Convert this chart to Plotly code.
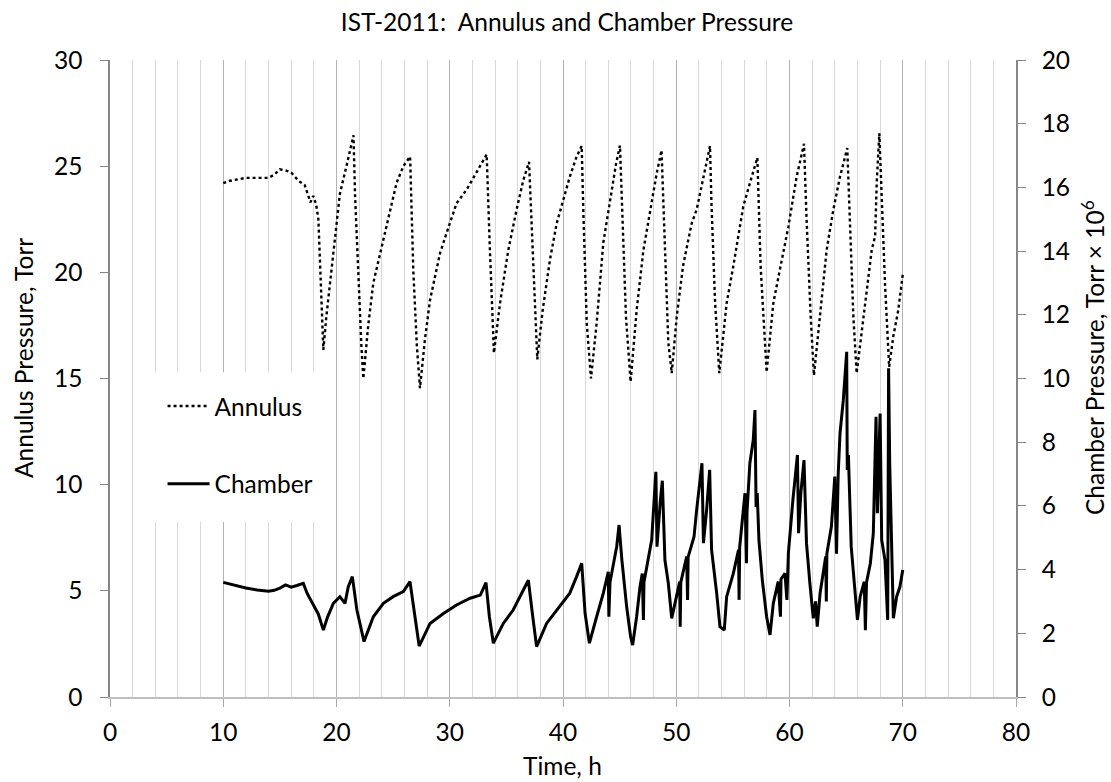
import plotly.graph_objects as go

# ---------------- data ----------------
annulus_time = [10.0, 10.5, 11.0, 12.0, 13.0, 14.0, 14.5, 15.0, 15.5, 16.0, 16.5, 16.8, 17.2, 17.5, 17.7,
                17.95, 18.2, 18.4, 18.55, 18.7, 18.84, 19.1, 19.43, 20.0, 20.3, 20.9, 21.3, 21.5, 21.64,
                21.93, 22.2, 22.37, 22.8, 23.25, 24.0, 24.7, 25.3, 25.9, 26.5, 26.78, 27.1, 27.37, 27.8,
                28.26, 29.14, 30.0, 30.6, 31.5, 32.4, 33.26, 33.55, 33.9, 34.44, 35.17, 35.9, 36.5, 37.0,
                37.38, 37.73, 38.2, 38.85, 39.44, 40.03, 40.6, 41.2, 41.65, 41.8, 42.1, 42.47, 42.97,
                43.56, 44.15, 44.68, 45.03, 45.27, 45.56, 45.97, 46.5, 47.1, 47.7, 48.27, 48.7, 49.0,
                49.3, 49.6, 50.04, 50.6, 51.36, 51.8, 52.4, 52.98, 53.1, 53.42, 53.8, 54.45, 55.04,
                55.92, 56.5, 57.16, 57.45, 57.98, 58.57, 59.16, 59.9, 60.63, 61.28, 61.5, 61.87, 62.16,
                62.84, 63.28, 63.87, 64.46, 65.1, 65.3, 65.64, 65.93, 66.52, 67.26, 67.56, 67.7, 67.93,
                68.14, 68.43, 68.8, 69.17, 69.6, 70.0]
annulus_torr = [24.2, 24.3, 24.35, 24.45, 24.45, 24.45, 24.6, 24.85, 24.8, 24.7, 24.4, 24.25, 24.1, 23.6, 23.3,
                23.6, 23.2, 22.5, 20.3, 17.5, 16.35, 17.9, 19.5, 22.3, 23.7, 25.05, 25.9, 26.45, 23.6,
                19.5, 16.5, 15.0, 17.5, 19.5, 21.2, 22.9, 24.2, 25.0, 25.45, 20.1, 16.5, 14.55, 16.8,
                18.7, 20.9, 22.3, 23.25, 23.9, 24.75, 25.55, 21.0, 16.2, 18.55, 21.05, 22.95, 24.35, 25.2,
                20.3, 15.9, 18.2, 20.6, 22.3, 23.4, 24.5, 25.45, 25.95, 22.8, 17.6, 15.0, 17.6,
                21.4, 23.4, 25.1, 25.97, 22.6, 17.9, 14.85, 18.2, 21.05, 22.95, 24.65, 25.75, 21.05,
                16.7, 15.25, 17.9, 20.3, 22.3, 22.95, 24.5, 25.95, 23.4, 18.7, 15.25, 18.55, 20.3,
                23.1, 24.2, 25.4, 20.3, 15.3, 18.55, 20.1, 22.15, 24.5, 26.05, 22.6, 17.9, 15.15,
                18.85, 21.05, 22.95, 24.5, 25.85, 22.6, 17.9, 15.25, 17.9, 21.05, 21.7, 24.2, 26.55,
                23.7, 19.5, 15.55, 17.0, 18.2, 19.9]

chamber_time = [10.0, 11.0, 12.0, 13.0, 14.0, 14.5, 15.0, 15.5, 16.0, 16.5, 17.07, 17.4, 17.95, 18.4, 18.84,
                19.2, 19.72, 20.3, 20.75, 21.04, 21.4, 21.8, 22.43, 23.25, 24.14, 25.0, 25.9, 26.49,
                26.93, 27.3, 28.26, 29.44, 30.6, 31.8, 32.7, 33.2, 33.5, 33.85, 34.73, 35.6, 36.5, 36.94,
                37.33, 37.67, 38.55, 39.73, 40.6, 41.2, 41.65, 41.95, 42.33, 42.97, 43.56, 44.0, 44.05,
                44.15, 44.4, 44.74, 44.95, 45.2, 45.62, 45.97, 46.15, 46.5, 46.8, 47.0, 47.1, 47.15, 47.4,
                47.83, 48.2, 48.3, 48.6, 48.77, 49.0, 49.3, 49.6, 50.04, 50.3, 50.35, 50.4, 50.92, 51.0,
                51.05, 51.57, 51.8, 52.27, 52.4, 52.68, 52.95, 53.12, 53.57, 53.86, 54.24, 54.45, 55.04,
                55.5, 55.55, 55.6, 55.92, 56.07, 56.2, 56.25, 56.5, 56.8, 56.95, 57.05, 57.15, 57.3, 57.6,
                57.98, 58.28, 58.57, 59.0, 59.2, 59.25, 59.6, 59.77, 59.9, 60.3, 60.7, 60.8, 61.0, 61.28,
                61.5, 61.8, 62.1, 62.3, 62.45, 62.7, 63.2, 63.25, 63.3, 63.7, 64.0, 64.15, 64.3, 64.46,
                64.75, 65.05, 65.1, 65.2, 65.3, 65.45, 65.75, 66.0, 66.24, 66.6, 66.7, 66.8, 67.14, 67.4,
                67.64, 67.76, 68.0, 68.14, 68.43, 68.67, 68.75, 68.85, 69.17, 69.46, 69.75, 70.0]
chamber_e6 = [3.6, 3.5, 3.42, 3.36, 3.32, 3.35, 3.42, 3.52, 3.45, 3.5, 3.57, 3.26, 2.9, 2.6, 2.1,
              2.5, 2.94, 3.15, 2.94, 3.46, 3.78, 2.73, 1.74, 2.52, 2.94, 3.15, 3.31, 3.62,
              2.52, 1.6, 2.31, 2.62, 2.89, 3.1, 3.2, 3.59, 2.52, 1.69, 2.31, 2.73, 3.36, 3.67,
              2.52, 1.58, 2.31, 2.84, 3.26, 3.78, 4.2, 2.63, 1.69, 2.52, 3.26, 3.93, 2.52,
              3.6, 4.09, 4.72, 5.4, 4.3, 2.84, 1.89, 1.63, 2.52, 3.46, 3.88, 2.42, 3.6, 4.09,
              4.93, 7.07, 4.72, 6.19, 6.79, 4.3, 3.57, 2.47, 3.26, 3.62, 2.21, 3.6, 4.41, 3.05,
              4.4, 5.03, 5.87, 7.34, 4.83, 5.87, 7.13, 4.62, 3.26, 2.21, 2.1, 3.15, 3.88,
              4.62, 3.05, 4.7, 5.87, 6.4, 4.2, 5.8, 7.34, 8.07, 9.01, 5.97, 6.4, 4.93, 3.67,
              2.52, 1.95, 2.94, 3.62, 2.52, 3.7, 3.88, 3.05, 4.51, 6.19, 7.6, 5.14, 6.4, 7.44,
              4.83, 3.57, 2.47, 3.0, 2.21, 3.26, 4.41, 3.0, 4.5, 5.35, 6.92, 4.5, 7.0, 8.28,
              9.32, 10.84, 7.13, 7.6, 6.19, 4.72, 3.46, 2.42, 3.15, 3.62, 2.1, 3.6, 4.2, 5.14,
              8.8, 5.77, 8.9, 4.93, 4.3, 2.42, 10.32, 7.3, 2.47, 3.15, 3.46, 3.99]

x_ticks = [0, 10, 20, 30, 40, 50, 60, 70, 80]
left_ticks = [0, 5, 10, 15, 20, 25, 30]
right_ticks = [0, 2, 4, 6, 8, 10, 12, 14, 16, 18, 20]

FONT = "Lato"
FS = 24.5

fig = go.Figure()
fig.add_trace(go.Scatter(x=annulus_time, y=annulus_torr, name="Annulus", mode="lines",
                         line=dict(color="black", width=2.4, dash="dot"),
                         legendgroup="a", yaxis="y"))
fig.add_trace(go.Scatter(x=chamber_time, y=chamber_e6, name="Chamber", mode="lines",
                         line=dict(color="black", width=3),
                         legendgroup="c", yaxis="y2"))

fig.update_layout(
    width=1111, height=782,
    margin=dict(l=110, r=95, t=60, b=85),
    paper_bgcolor="white", plot_bgcolor="white",
    font=dict(family=FONT, size=FS, color="black"),
    title=dict(text="IST-2011:  Annulus and Chamber Pressure", x=567 / 1111, xref="container",
               xanchor="center", y=1 - 22 / 782, yref="container", yanchor="middle",
               font=dict(family=FONT, size=FS, color="black")),
    xaxis=dict(range=[0, 80], tickvals=x_ticks, ticks="outside", ticklen=8, tickcolor="#a6a6a6",
               showline=True, linecolor="#bfbfbf", linewidth=1.5, ticklabelstandoff=5,
               showgrid=True, gridcolor="#b3b3b3", gridwidth=1, zeroline=False,
               minor=dict(dtick=2, showgrid=True, gridcolor="#d9d9d9", gridwidth=1, ticks=""),
               tickfont=dict(family=FONT, size=FS)),
    yaxis=dict(range=[0, 30], tickvals=left_ticks, ticks="outside", ticklen=8, tickcolor="#868686",
               showline=True, linecolor="#868686", linewidth=1.5, showgrid=False, zeroline=False,
               ticklabelstandoff=13, tickfont=dict(family=FONT, size=FS)),
    yaxis2=dict(range=[0, 20], tickvals=right_ticks, ticks="outside", ticklen=8, tickcolor="#868686",
                showline=True, linecolor="#868686", linewidth=1.5, showgrid=False, zeroline=False,
                ticklabelstandoff=11, overlaying="y", side="right", tickfont=dict(family=FONT, size=FS)),
    legend=dict(x=0.058, y=0.492, xanchor="left", yanchor="top", bgcolor="rgba(0,0,0,0)",
                borderwidth=0, tracegroupgap=43, traceorder="grouped", itemwidth=42,
                font=dict(family=FONT, size=FS)),
    showlegend=True,
)

# white box behind the legend (covers gridlines)
fig.add_shape(type="rect", xref="x", yref="y", x0=3.3, x1=19.3, y0=8.24, y1=15.3,
              fillcolor="white", line=dict(width=0), layer="between")

fig.add_annotation(text="Annulus Pressure, Torr", xref="paper", yref="paper",
                   x=(23 - 110) / 906, y=(697 - 358) / 637, textangle=-90, showarrow=False,
                   xanchor="center", yanchor="middle", font=dict(family=FONT, size=FS))
fig.add_annotation(text="Chamber Pressure, Torr × 10<sup>6</sup>", xref="paper", yref="paper",
                   x=(1093 - 110) / 906, y=(697 - 358) / 637, textangle=-90, showarrow=False,
                   xanchor="center", yanchor="middle", font=dict(family=FONT, size=FS))
fig.add_annotation(text="Time, h", xref="paper", yref="paper",
                   x=(562 - 110) / 906, y=(697 - 765) / 637, showarrow=False,
                   xanchor="center", yanchor="middle", font=dict(family=FONT, size=FS))

fig.write_html("out.html")
